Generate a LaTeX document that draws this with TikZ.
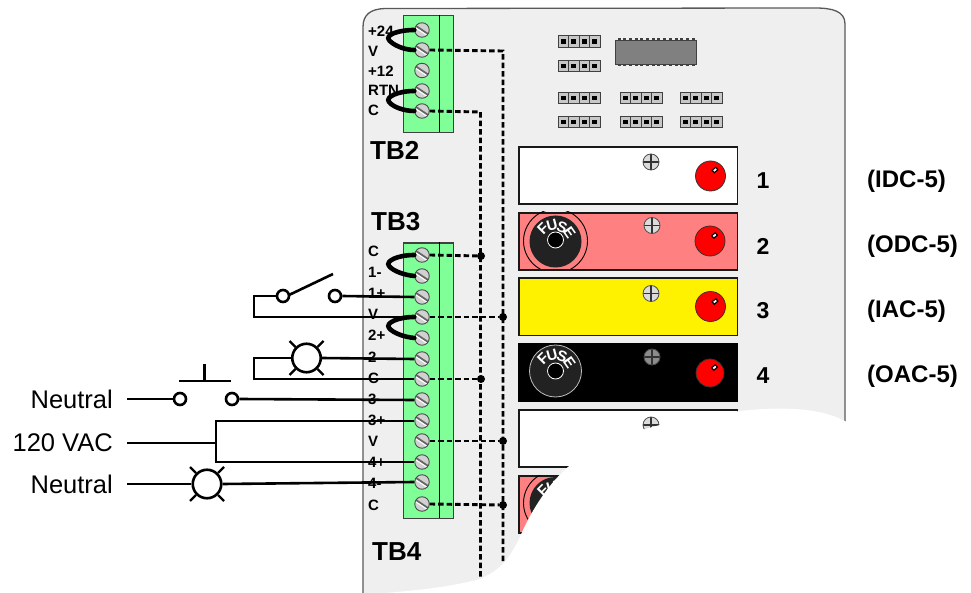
\documentclass[tikz,border=0pt]{standalone}
\usepackage{fontspec}
\setmainfont{Liberation Sans}
\definecolor{panelgray}{HTML}{EFEFEF}
\definecolor{tbgreen}{HTML}{80FF99}
\definecolor{fusepink}{HTML}{FF8080}
\definecolor{fusedark}{HTML}{222222}
\tikzset{
  x=1pt,y=-1pt,
  wire/.style={line width=2.6pt,black},
  thinwire/.style={line width=2.2pt,black},
  jump/.style={line width=4.6pt,black,line cap=round},
  dashwire/.style={line width=2.9pt,black,dash pattern=on 5.5pt off 3pt},
  blockbox/.style={draw=black!75,line width=1.3pt,fill=tbgreen},
  tinylab/.style={font=\bfseries\fontsize{15}{15}\selectfont,anchor=west,inner sep=0pt},
  tblab/.style={font=\bfseries\fontsize{26}{26}\selectfont,anchor=west,inner sep=0pt},
  numlab/.style={font=\bfseries\fontsize{23}{23}\selectfont,inner sep=0pt},
  typelab/.style={font=\bfseries\fontsize{24}{24}\selectfont,anchor=west,inner sep=0pt},
  leftlab/.style={font=\fontsize{25.5}{25.5}\selectfont,anchor=east,inner sep=0pt},
  screw/.style={circle,draw=black!70,line width=0.9pt,fill=black!18,minimum size=14.5pt,inner sep=0pt,
    path picture={\draw[black!60,line width=1.8pt] ([shift={(-6,-4)}]path picture bounding box.center) -- ([shift={(6,4)}]path picture bounding box.center);
                  \draw[white,line width=1pt] ([shift={(-6,-2)}]path picture bounding box.center) -- ([shift={(6,6)}]path picture bounding box.center);}},
  modbox/.style={draw=black!90,line width=1.8pt,minimum width=218.5pt,minimum height=57pt,anchor=north west,inner sep=0pt},
  led/.style={circle,draw=black!80,line width=0.8pt,fill=red,minimum size=30pt,inner sep=0pt},
  cross/.style={circle,draw=black!70,line width=0.8pt,fill=black!14,minimum size=16pt,inner sep=0pt,
    path picture={\draw[black!80,line width=1.1pt] ([xshift=-9pt]path picture bounding box.center) -- ([xshift=9pt]path picture bounding box.center);
                  \draw[black!80,line width=1.1pt] ([yshift=-9pt]path picture bounding box.center) -- ([yshift=9pt]path picture bounding box.center);}},
  disc/.style={circle,fill=fusedark,minimum size=52pt,inner sep=0pt},
  hole/.style={circle,fill=black,draw=white,line width=0.8pt,minimum size=16pt,inner sep=0pt},
  fuselet/.style={text=white,font=\bfseries\fontsize{15}{15}\selectfont,inner sep=0pt},
  terminal/.style={circle,draw=black,line width=2.6pt,fill=white,minimum size=12pt,inner sep=0pt},
  lamp/.style={circle,draw=black,line width=2.6pt,fill=white,minimum size=28.5pt,inner sep=0pt},
  junction/.style={circle,fill=black,minimum size=8pt,inner sep=0pt},
  headcell/.style={draw=black!75,line width=0.9pt,fill=black!22,minimum width=10.5pt,minimum height=11.5pt,inner sep=0pt},
}
\newcommand{\headerrow}[2]{%
  \foreach \k in {0,1,2,3}{
    \node[headcell] at ({#1+5.25+\k*10.5},{#2}) {};
    \fill[black] ({#1+5.25+\k*10.5-2.4},{#2-2.4}) rectangle ({#1+5.25+\k*10.5+2.4},{#2+2.4});
  }}
\newcommand{\fusecap}[2]{%
  \node[fuselet,rotate=45] at ({#1-12.5},{#2-12.5}) {F};
  \node[fuselet,rotate=15] at ({#1-3.5},{#2-16}) {U};
  \node[fuselet,rotate=-20] at ({#1+6.5},{#2-14.5}) {S};
  \node[fuselet,rotate=-55] at ({#1+14},{#2-8.5}) {E};}
\newcommand{\lednub}[2]{%
  \fill[black,rotate around={40:(#1,#2)}] ({#1-3},{#2-2.2}) rectangle ({#1+3},{#2+2.2});
  \fill[white,rotate around={40:(#1,#2)}] ({#1-1.6},{#2-0.9}) rectangle ({#1+1.6},{#2+0.9});}
\newcommand{\lamprays}[2]{%
  \draw[thinwire] ({#1-11},{#2-11}) -- ({#1-17},{#2-17});
  \draw[thinwire] ({#1+11},{#2-11}) -- ({#1+17},{#2-17});
  \draw[thinwire] ({#1-11},{#2+11}) -- ({#1-17},{#2+17});
  \draw[thinwire] ({#1+11},{#2+11}) -- ({#1+17},{#2+17});}
\begin{document}
\begin{tikzpicture}
\useasboundingbox (0,0) rectangle (971,593);
% panel
\draw[draw=black!65,line width=1.3pt,fill=panelgray]
  (363,600) -- (363,27) .. controls (363,15) and (370,9) .. (385,8.5)
  -- (815,8) .. controls (832,8) and (845,11) .. (845,24) -- (845,440) -- (845,600) -- cycle;
% jumper headers and chip
\foreach \yy in {41.5,66,98,122}{\headerrow{558}{\yy}}
\foreach \yy in {98,122}{\headerrow{620}{\yy}\headerrow{680}{\yy}}
\foreach \k in {0,...,13}{
  \fill[black!75] ({617.5+\k*5.7},38.5) rectangle ({620.5+\k*5.7},41);
  \fill[black!75] ({617.5+\k*5.7},64) rectangle ({620.5+\k*5.7},66.5);
}
\node[draw=black!75,line width=0.9pt,fill=black!50,minimum width=81pt,minimum height=24.5pt,inner sep=0pt,anchor=north west] (chip) at (615,40) {};
% modules
\node[modbox,fill=white] (m1) at (518,146.5) {};
\node[modbox,fill=fusepink] (m2) at (518,212) {};
\node[modbox,fill=yellow] (m3) at (518,277.5) {};
\node[modbox,fill=black,draw=black] (m4) at (518,343) {};
\node[modbox,fill=white] (m5) at (518,409) {};
\node[modbox,fill=fusepink] (m6) at (518,475) {};
\begin{scope}
  \clip (518,212) rectangle (736.5,269);
  \draw[black,line width=0.9pt] (555.5,241) circle (32);
\end{scope}
\begin{scope}
  \clip (518,475) rectangle (736.5,532);
  \draw[black,line width=0.9pt] (555.5,503) circle (32);
\end{scope}
\node[disc] (f2) at (555.5,241.5) {};
\node[hole] (h2) at (555.5,240) {};
\fusecap{555.5}{241.5}
\node[disc,draw=black!25,line width=0.8pt] (f4) at (555.5,371) {};
\node[hole] (h4) at (555.5,371) {};
\fusecap{555.5}{371}
\node[disc] (f6) at (555.5,503) {};
\node[hole] (h6) at (555.5,503) {};
\fusecap{555.5}{503}
\node[cross] (c1) at (651,162) {};
\node[cross] (c2) at (652,225.5) {};
\node[cross] (c3) at (651,293.5) {};
\node[cross,fill=black!45] (c4) at (652,357) {};
\node[cross] (c5) at (651,425) {};
\node[led] (l1) at (710.5,176) {}; \lednub{715}{170}
\node[led] (l2) at (710,241) {}; \lednub{714.5}{235.5}
\node[led] (l3) at (710.5,306.5) {}; \lednub{715}{301.5}
\node[led,minimum size=28pt] (l4) at (710,373) {}; \lednub{714.5}{367.5}
% terminal blocks
\node[blockbox,minimum width=50pt,minimum height=117pt,inner sep=0pt,anchor=north west] (tb2) at (403,15) {};
\node[blockbox,minimum width=50pt,minimum height=275pt,inner sep=0pt,anchor=north west] (tb3) at (403,242.5) {};
\draw[black,line width=0.9pt] (439.5,15) -- (439.5,132);
\draw[black,line width=0.9pt] (439.5,242.5) -- (439.5,517.5);
% labels
\node[tblab] (tTB2) at (370,150) {TB2};
\node[tblab] (tTB3) at (371,222) {TB3};
\node[tblab] (tTB4) at (372,552) {TB4};
\node[tinylab] at (368,31) {+24};
\node[tinylab] at (368,51) {V};
\node[tinylab] at (368,71) {+12};
\node[tinylab] at (368,90) {RTN};
\node[tinylab] at (368,110) {C};
\node[tinylab] at (368,251) {C};
\node[tinylab] at (368,272) {1-};
\node[tinylab] at (368,293) {1+};
\node[tinylab] at (368,314) {V};
\node[tinylab] at (368,335) {2+};
\node[tinylab] at (368,357) {2};
\node[tinylab] at (368,378) {C};
\node[tinylab] at (368,399) {3-};
\node[tinylab] at (368,420) {3+};
\node[tinylab] at (368,441) {V};
\node[tinylab] at (368,462) {4+};
\node[tinylab] at (368,483) {4-};
\node[tinylab] at (368,505) {C};
\node[numlab] at (763,181) {1};
\node[numlab] at (763,246) {2};
\node[numlab] at (763,311) {3};
\node[numlab] at (763,376) {4};
\node[typelab] at (867,181) {(IDC-5)};
\node[typelab] at (867,246) {(ODC-5)};
\node[typelab] at (867,311) {(IAC-5)};
\node[typelab] at (867,376) {(OAC-5)};
\node[leftlab] (nA) at (113,399) {Neutral};
\node[leftlab] (vac) at (113,443) {120 VAC};
\node[leftlab] (nB) at (113,484) {Neutral};
% named points
\coordinate (nAe) at (127,399);
\coordinate (vace) at (127,443);
\coordinate (nBe) at (127,484);
\coordinate (bus) at (216,443);
\coordinate (d24) at (503,51);
\coordinate (dC2) at (480.5,112);
\coordinate (d503end) at (503,563);
\coordinate (d480end) at (480.5,582);
% screws
\foreach \n/\yy in {a/30,b/50,c/70.5,d/91,e/111}{\node[screw] (s\n) at (422,\yy) {};}
\foreach \n/\yy in {1/255,2/276,3/297,4/317,5/338,6/359,7/379,8/400,9/421,10/441,11/462,12/482,13/504}{\node[screw] (t\n) at (422,\yy) {};}
% jumpers
\draw[jump] (sa.west) .. controls (398,30) and (385,35) .. (389,40) .. controls (393,45) and (404,50) .. (sb.west);
\draw[jump] (sd.west) .. controls (398,91) and (385,97) .. (389,102) .. controls (393,107) and (404,111) .. (se.west);
\draw[jump] (t1.west) .. controls (398,255) and (385,261) .. (389,266) .. controls (393,271) and (404,275) .. (t2.west);
\draw[jump] (t4.west) .. controls (398,317) and (385,323) .. (389,328) .. controls (393,333) and (404,337) .. (t5.west);
% dashed lines
\node[junction] (j1) at (481,256) {};
\node[junction] (j2) at (503,317) {};
\node[junction] (j3) at (481,379) {};
\node[junction] (j4) at (503,441) {};
\node[junction] (j5) at (503,505) {};
\draw[dashwire] (sb.east) -- (d24) -- (d503end);
\draw[dashwire] (se.east) -- (dC2) -- (d480end);
\draw[dashwire] (t1.east) -- (j1);
\draw[dashwire] (t4.east) -- (j2);
\draw[dashwire] (t7.east) -- (j3);
\draw[dashwire] (t10.east) -- (j4);
\draw[dashwire] (t13.east) -- (j5);
% switch
\node[terminal] (sw1) at (283,296) {};
\node[terminal] (sw2) at (335,296) {};
\draw[wire] (289,295) -- (333,274);
\draw[wire] (sw2.east) -- (t3.west);
\draw[wire] (sw1.west) -- (254,296) -- (254,317) -- (t4.west);
% lamp 1
\node[lamp] (la) at (306.5,358) {};
\lamprays{306.5}{358}
\draw[wire] (la.east) -- (t6.west);
\draw[wire] (la.west) -- (254,358) -- (254,379) -- (t7.west);
% push button
\node[terminal] (pb1) at (180,399) {};
\node[terminal] (pb2) at (232,399) {};
\draw[wire] (179,381) -- (231,381);
\draw[wire] (204.5,364) -- (204.5,381);
\draw[wire] (nAe) -- (pb1.west);
\draw[wire] (pb2.east) -- (t8.west);
% 120 VAC
\draw[wire] (vace) -- (bus);
\draw[wire] (t9.west) -- (216,421) -- (216,462) -- (t11.west);
% lamp 2
\node[lamp] (lb) at (207,484) {};
\lamprays{207}{484}
\draw[wire] (nBe) -- (lb.west);
\draw[wire] (lb.east) -- (t12.west);
% torn edge
\fill[white] (850,424) .. controls (825,408) and (785,406) .. (740,411)
  .. controls (690,417) and (610,430) .. (568,467)
  .. controls (545,487) and (530,515) .. (523,530)
  .. controls (510,560) and (500,570) .. (480,579)
  .. controls (450,587) and (420,590) .. (385,593)
  -- (850,600) -- cycle;
\end{tikzpicture}
\end{document}
